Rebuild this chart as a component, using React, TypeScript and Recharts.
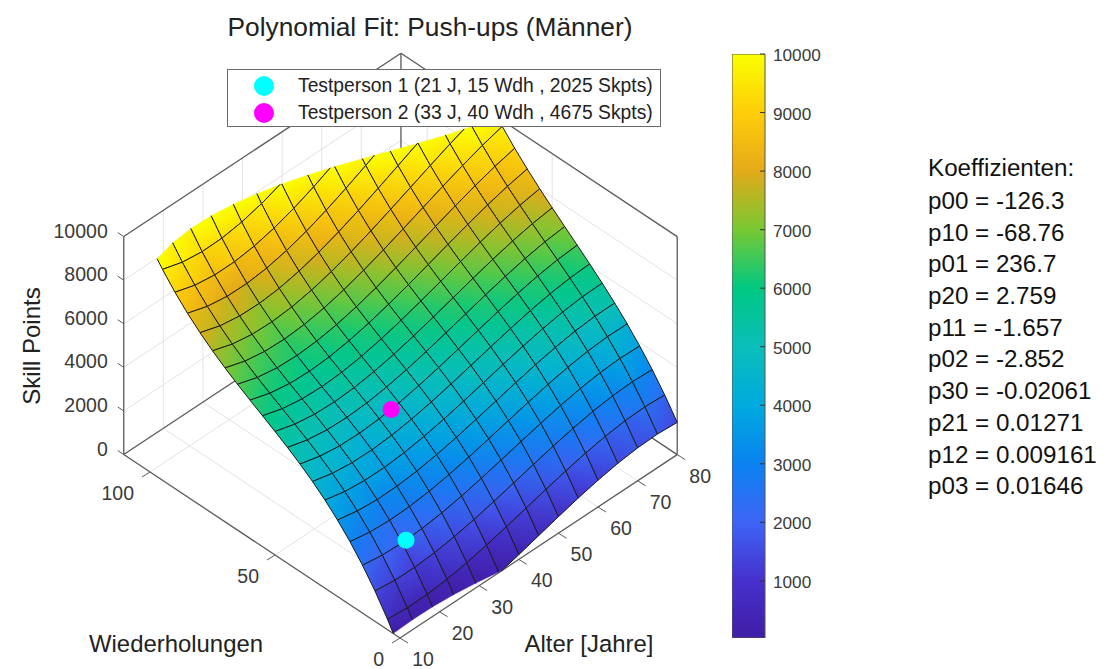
import React from 'react';
import { ScatterChart, Scatter, XAxis, YAxis, ReferenceLine, Legend, BarChart, Bar } from 'recharts';

// ---------- data ----------
const ages = [10, 15, 20, 25, 30, 35, 40, 45, 50, 55, 60, 65, 70, 75, 80];
const reps = [0, 5, 10, 15, 20, 25, 30, 35, 40, 45, 50, 55, 60, 65, 70, 75, 80, 85, 90, 95, 100];
const skillAge10 = [-559, 481, 1396, 2197, 2897, 3508, 4043, 4515, 4934, 5315, 5668, 6007, 6343, 6690, 7059, 7464, 7914, 8425, 9008, 9675, 10437];
const skillAge15 = [-607, 401, 1286, 2059, 2733, 3322, 3836, 4288, 4692, 5058, 5400, 5729, 6058, 6400, 6767, 7171, 7624, 8139, 8728, 9403, 10178];
const skillAge20 = [-563, 416, 1273, 2022, 2674, 3242, 3739, 4176, 4566, 4922, 5255, 5578, 5903, 6243, 6611, 7017, 7476, 7998, 8597, 9285, 10073];
const skillAge25 = [-443, 510, 1344, 2071, 2704, 3255, 3737, 4162, 4543, 4890, 5218, 5538, 5863, 6205, 6576, 6988, 7455, 7988, 8600, 9303, 10109];
const skillAge30 = [-263, 667, 1481, 2190, 2807, 3345, 3815, 4231, 4605, 4948, 5274, 5594, 5921, 6267, 6645, 7067, 7545, 8092, 8720, 9442, 10269];
const skillAge35 = [-37, 873, 1669, 2363, 2968, 3495, 3957, 4367, 4737, 5079, 5406, 5729, 6062, 6416, 6804, 7239, 7731, 8295, 8943, 9686, 10536];
const skillAge40 = [219, 1113, 1894, 2576, 3171, 3691, 4149, 4556, 4926, 5270, 5600, 5930, 6272, 6637, 7038, 7488, 7999, 8583, 9253, 10021, 10899];
const skillAge45 = [488, 1369, 2140, 2813, 3402, 3918, 4373, 4781, 5153, 5502, 5840, 6179, 6533, 6912, 7330, 7799, 8331, 8938, 9634, 10430, 11337];
const skillAge50 = [757, 1627, 2390, 3058, 3644, 4159, 4616, 5027, 5405, 5762, 6111, 6463, 6832, 7229, 7666, 8157, 8713, 9347, 10072, 10899, 11840];
const skillAge55 = [1009, 1872, 2631, 3296, 3882, 4399, 4860, 5279, 5666, 6034, 6396, 6765, 7151, 7569, 8029, 8545, 9129, 9793, 10549, 11410, 12388];
const skillAge60 = [1229, 2088, 2845, 3512, 4100, 4623, 5092, 5520, 5920, 6303, 6682, 7070, 7478, 7919, 8406, 8950, 9564, 10261, 11052, 11951, 12969];
const skillAge65 = [1401, 2260, 3019, 3690, 4284, 4815, 5296, 5737, 6152, 6553, 6952, 7362, 7795, 8263, 8779, 9354, 10002, 10735, 11565, 12505, 13565];
const skillAge70 = [1510, 2372, 3136, 3814, 4418, 4961, 5455, 5913, 6346, 6768, 7191, 7626, 8087, 8585, 9133, 9744, 10429, 11201, 12072, 13056, 14162];
const skillAge75 = [1541, 2409, 3181, 3869, 4485, 5043, 5555, 6032, 6488, 6934, 7383, 7847, 8338, 8870, 9454, 10102, 10827, 11642, 12558, 13588, 14744];
const skillAge80 = [1478, 2355, 3138, 3839, 4472, 5048, 5580, 6080, 6560, 7034, 7512, 8008, 8534, 9102, 9724, 10413, 11182, 12042, 13006, 14087, 15295];
const skillByAge = [skillAge10, skillAge15, skillAge20, skillAge25, skillAge30, skillAge35, skillAge40, skillAge45, skillAge50, skillAge55, skillAge60, skillAge65, skillAge70, skillAge75, skillAge80];

const person1 = { name: 'Testperson 1 (21 J, 15 Wdh , 2025 Skpts)', age: 21, rep: 15, skill: 2025, color: '#00ffff' };
const person2 = { name: 'Testperson 2 (33 J, 40 Wdh , 4675 Skpts)', age: 33, rep: 40, skill: 4675, color: '#ff00ff' };

const repTicks = [0, 50, 100];
const ageTicks = [10, 20, 30, 40, 50, 60, 70, 80];
const skillTicks = [0, 2000, 4000, 6000, 8000, 10000];
const colorbarTicks = [1000, 2000, 3000, 4000, 5000, 6000, 7000, 8000, 9000, 10000];
const coefficients = ['p00 = -126.3', 'p10 = -68.76', 'p01 = 236.7', 'p20 = 2.759', 'p11 = -1.657', 'p02 = -2.852', 'p30 = -0.02061', 'p21 = 0.01271', 'p12 = 0.009161', 'p03 = 0.01646'];

// ---------- view ----------
const FONT = '"Liberation Sans", Arial, sans-serif';
const W = 1119, H = 669;
const REP_MAX = 110.5, AGE_MIN = 10, AGE_MAX = 80, Z_MAX = 10000;
const C_MIN = 24;
const project = (r: number, a: number, z: number) => ({
  px: 400 - 2.5 * r + 3.96 * (a - AGE_MIN),
  py: 638 - 1.66 * r - 2.62 * (a - AGE_MIN) - 0.0218 * z,
});

// colour at 0, 1000, ... 10000 as seen on the reference colour bar
const COLORMAP: [number, number, number][] = [
  [64, 30, 165], [70, 48, 205], [62, 100, 245], [10, 130, 240], [0, 170, 222], [10, 190, 185],
  [0, 200, 130], [120, 200, 50], [228, 170, 25], [255, 205, 10], [250, 255, 0],
];
const colorOf = (z: number) => {
  const t = Math.max(0, Math.min(1, z / Z_MAX)) * (COLORMAP.length - 1);
  const i = Math.min(COLORMAP.length - 2, Math.floor(t));
  const f = t - i;
  const c = COLORMAP[i].map((v, k) => Math.round(v + (COLORMAP[i + 1][k] - v) * f));
  return `rgb(${c[0]},${c[1]},${c[2]})`;
};

type V = { r: number; a: number; z: number };
const cut = (p: V, q: V, lim: number): V => {
  const t = (lim - p.z) / (q.z - p.z);
  return { r: p.r + (q.r - p.r) * t, a: p.a + (q.a - p.a) * t, z: lim };
};
const clipPoly = (poly: V[], lim: number, below: boolean) => {
  const inside = (v: V) => (below ? v.z <= lim : v.z >= lim);
  const out: V[] = [];
  poly.forEach((p, i) => {
    const q = poly[(i + 1) % poly.length];
    if (inside(p)) out.push(p);
    if (inside(p) !== inside(q)) out.push(cut(p, q, lim));
  });
  return out;
};
const clipSeg = (p: V, q: V): [V, V] | null => {
  let a = p, b = q;
  for (const [lim, below] of [[0, false], [Z_MAX, true]] as [number, boolean][]) {
    const ia = below ? a.z <= lim : a.z >= lim;
    const ib = below ? b.z <= lim : b.z >= lim;
    if (!ia && !ib) return null;
    if (!ia) a = cut(a, b, lim);
    else if (!ib) b = cut(a, b, lim);
  }
  return [a, b];
};

const cells: any[] = [];
for (let i = ages.length - 2; i >= 0; i--) {
  for (let j = reps.length - 2; j >= 0; j--) {
    const quad: V[] = [
      { r: reps[j], a: ages[i], z: skillByAge[i][j] },
      { r: reps[j + 1], a: ages[i], z: skillByAge[i][j + 1] },
      { r: reps[j + 1], a: ages[i + 1], z: skillByAge[i + 1][j + 1] },
      { r: reps[j], a: ages[i + 1], z: skillByAge[i + 1][j] },
    ];
    const poly = clipPoly(clipPoly(quad, 0, false), Z_MAX, true);
    if (poly.length < 3) continue;
    const segs = quad.map((v, k) => clipSeg(v, quad[(k + 1) % 4])).filter(Boolean) as [V, V][];
    const pts = poly.map((v) => ({ ...project(v.r, v.a, v.z), z: v.z }));
    const lo = pts.reduce((m, v) => (v.z < m.z ? v : m));
    const hi = pts.reduce((m, v) => (v.z > m.z ? v : m));
    cells.push({
      id: `c${i}_${j}`,
      px: pts.reduce((s, v) => s + v.px, 0) / pts.length,
      py: pts.reduce((s, v) => s + v.py, 0) / pts.length,
      pts, lo, hi,
      lines: segs.map(([p, q]) => [project(p.r, p.a, p.z), project(q.r, q.a, q.z)]),
    });
  }
}

const CellShape = (props: any) => {
  const { cx, cy, payload: c } = props;
  const dx = cx - c.px, dy = cy - c.py;
  return (
    <g>
      <defs>
        <linearGradient id={c.id} gradientUnits="userSpaceOnUse" x1={c.lo.px + dx} y1={c.lo.py + dy} x2={c.hi.px + dx} y2={c.hi.py + dy}>
          <stop offset="0" stopColor={colorOf(c.lo.z)} />
          <stop offset="1" stopColor={colorOf(c.hi.z)} />
        </linearGradient>
      </defs>
      <polygon points={c.pts.map((v: any) => `${v.px + dx},${v.py + dy}`).join(' ')} fill={`url(#${c.id})`} stroke={colorOf((c.lo.z + c.hi.z) / 2)} strokeWidth={0.3} />
      {c.lines.map((l: any, k: number) => (
        <line key={k} x1={l[0].px + dx} y1={l[0].py + dy} x2={l[1].px + dx} y2={l[1].py + dy} stroke="#1c1c1c" strokeWidth={1} />
      ))}
    </g>
  );
};

const seg = (p: V, q: V) => {
  const a = project(p.r, p.a, p.z), b = project(q.r, q.a, q.z);
  return [{ x: a.px, y: a.py }, { x: b.px, y: b.py }] as any;
};
const GRID = '#e3e3e3', BOX = '#5a5a5a';
const gridSegments: any[] = [];
ageTicks.slice(1, -1).forEach((a) => {
  gridSegments.push(seg({ r: 0, a, z: 0 }, { r: REP_MAX, a, z: 0 }));
  gridSegments.push(seg({ r: REP_MAX, a, z: 0 }, { r: REP_MAX, a, z: Z_MAX }));
});
repTicks.slice(1).forEach((r) => {
  gridSegments.push(seg({ r, a: AGE_MIN, z: 0 }, { r, a: AGE_MAX, z: 0 }));
  gridSegments.push(seg({ r, a: AGE_MAX, z: 0 }, { r, a: AGE_MAX, z: Z_MAX }));
});
skillTicks.slice(1, -1).forEach((z) => {
  gridSegments.push(seg({ r: REP_MAX, a: AGE_MIN, z }, { r: REP_MAX, a: AGE_MAX, z }));
  gridSegments.push(seg({ r: REP_MAX, a: AGE_MAX, z }, { r: 0, a: AGE_MAX, z }));
});
const c0 = { r: 0, a: AGE_MIN }, cL = { r: REP_MAX, a: AGE_MIN }, cR = { r: 0, a: AGE_MAX }, cB = { r: REP_MAX, a: AGE_MAX };
const boxSegments = [
  seg({ ...c0, z: 0 }, { ...cL, z: 0 }),
  seg({ ...c0, z: 0 }, { ...cR, z: 0 }),
  seg({ ...cL, z: 0 }, { ...cB, z: 0 }),
  seg({ ...cR, z: 0 }, { ...cB, z: 0 }),
  seg({ ...cL, z: 0 }, { ...cL, z: Z_MAX }),
  seg({ ...cR, z: 0 }, { ...cR, z: Z_MAX }),
  seg({ ...cB, z: 0 }, { ...cB, z: Z_MAX }),
  seg({ ...cL, z: Z_MAX }, { ...cB, z: Z_MAX }),
  seg({ ...cR, z: Z_MAX }, { ...cB, z: Z_MAX }),
];

const ageTickData = ageTicks.map((v) => ({ ...project(0, v, 0), v }));
const repTickData = repTicks.map((v) => ({ ...project(v, AGE_MIN, 0), v }));
const skillTickData = skillTicks.map((v) => ({ ...project(REP_MAX, AGE_MIN, v), v }));
const tickText = { fontFamily: FONT, fontSize: 19.5, fill: '#3a3a3a' };

const AgeTick = (p: any) => (
  <g>
    <line x1={p.cx} y1={p.cy} x2={p.cx + 8} y2={p.cy + 5} stroke={BOX} />
    <text x={p.cx + 23} y={p.cy + 21} textAnchor="middle" dominantBaseline="central" {...tickText}>{p.payload.v}</text>
  </g>
);
const RepTick = (p: any) => (
  <g>
    <line x1={p.cx} y1={p.cy} x2={p.cx - 8} y2={p.cy + 5} stroke={BOX} />
    <text x={p.cx - 16} y={p.cy + 21} textAnchor="end" dominantBaseline="central" {...tickText}>{p.payload.v}</text>
  </g>
);
const SkillTick = (p: any) => (
  <g>
    <line x1={p.cx} y1={p.cy} x2={p.cx - 6} y2={p.cy - 4} stroke={BOX} />
    <text x={p.cx - 16} y={p.cy - 6} textAnchor="end" dominantBaseline="central" {...tickText}>{p.payload.v}</text>
  </g>
);
const Ball = (p: any) => <circle cx={p.cx} cy={p.cy} r={8.5} fill={p.fill} />;

const LegendBox = ({ payload }: any) => (
  <div style={{ width: 434, height: 58, boxSizing: 'border-box', border: '1.5px solid #6a6a6a', background: '#fff', position: 'relative', fontFamily: FONT, fontSize: 19.3, color: '#222' }}>
    {(payload || []).map((e: any, i: number) => (
      <div key={e.value} style={{ position: 'absolute', top: 3 + i * 26.5, left: 0, height: 26, width: '100%', display: 'flex', alignItems: 'center', whiteSpace: 'nowrap' }}>
        <span style={{ position: 'absolute', left: 26, width: 20, height: 20, borderRadius: 10, background: e.color }} />
        <span style={{ position: 'absolute', left: 70 }}>{e.value}</span>
      </div>
    ))}
  </div>
);

const ColorbarTick = ({ x, y, payload }: any) => (
  <g>
    <line x1={x - 13} y1={y} x2={x - 8} y2={y} stroke="#333" />
    <text x={x} y={y + 1} dominantBaseline="central" fontFamily={FONT} fontSize={17.2} fill="#3a3a3a">{payload.value}</text>
  </g>
);

export default function App() {
  return (
    <div style={{ position: 'absolute', left: 0, top: 0, width: W, height: H, background: '#fff', overflow: 'hidden' }}>
      <ScatterChart width={W} height={H} margin={{ top: 0, right: 0, bottom: 0, left: 0 }} style={{ position: 'absolute', left: 0, top: 0 }}>
        <XAxis type="number" dataKey="px" domain={[0, W]} hide />
        <YAxis type="number" dataKey="py" domain={[0, H]} reversed hide />
        {gridSegments.map((s, i) => <ReferenceLine key={`g${i}`} segment={s} stroke={GRID} strokeWidth={1} ifOverflow="visible" />)}
        {boxSegments.map((s, i) => <ReferenceLine key={`b${i}`} segment={s} stroke={BOX} strokeWidth={1.3} ifOverflow="visible" />)}
        <Scatter data={cells} shape={CellShape} isAnimationActive={false} legendType="none" />
        <Scatter data={ageTickData} shape={AgeTick} isAnimationActive={false} legendType="none" />
        <Scatter data={repTickData} shape={RepTick} isAnimationActive={false} legendType="none" />
        <Scatter data={skillTickData} shape={SkillTick} isAnimationActive={false} legendType="none" />
        {[person1, person2].map((p) => (
          <Scatter key={p.name} name={p.name} data={[project(p.rep, p.age, p.skill)]} fill={p.color} shape={Ball} isAnimationActive={false} />
        ))}
        <Legend verticalAlign="middle" layout="horizontal" content={LegendBox as any} wrapperStyle={{ left: 227, top: 69, width: 434, height: 58 }} />
        <text x={430} y={27} textAnchor="middle" dominantBaseline="central" fontFamily={FONT} fontSize={26.3} fill="#222">Polynomial Fit: Push-ups (Männer)</text>
        <text x={176} y={643} textAnchor="middle" dominantBaseline="central" fontFamily={FONT} fontSize={23.9} fill="#222">Wiederholungen</text>
        <text x={589} y={643} textAnchor="middle" dominantBaseline="central" fontFamily={FONT} fontSize={23.9} fill="#222">Alter [Jahre]</text>
        <text x={31} y={346} textAnchor="middle" dominantBaseline="central" fontFamily={FONT} fontSize={24} fill="#222" transform="rotate(-90 31 346)">Skill Points</text>
      </ScatterChart>

      <BarChart width={100} height={H} data={[{ name: 'c', value: 10000 }]} margin={{ top: 54, right: 0, bottom: 31, left: 0 }} barCategoryGap={0} style={{ position: 'absolute', left: 732, top: 0 }}>
        <defs>
          <linearGradient id="colorBar" x1="0" y1="1" x2="0" y2="0">
            {COLORMAP.map((_, i) => (
              <stop key={i} offset={Math.max(0, (i * 1000 - C_MIN) / (Z_MAX - C_MIN))} stopColor={colorOf(i * 1000)} />
            ))}
          </linearGradient>
        </defs>
        <XAxis dataKey="name" hide />
        <YAxis orientation="right" width={67} domain={[C_MIN, Z_MAX]} ticks={colorbarTicks} axisLine={false} tickLine={false} tick={ColorbarTick as any} allowDataOverflow interval={0} />
        <Bar dataKey="value" fill="url(#colorBar)" stroke="#555" isAnimationActive={false} />
      </BarChart>

      <div style={{ position: 'absolute', left: 928, top: 152, fontFamily: FONT, fontSize: 24.2, lineHeight: '32px', color: '#111', whiteSpace: 'nowrap' }}>
        <div style={{ marginBottom: 1 }}>Koeffizienten:</div>
        {coefficients.map((c) => <div key={c} style={{ height: 31.7 }}>{c}</div>)}
      </div>
    </div>
  );
}
